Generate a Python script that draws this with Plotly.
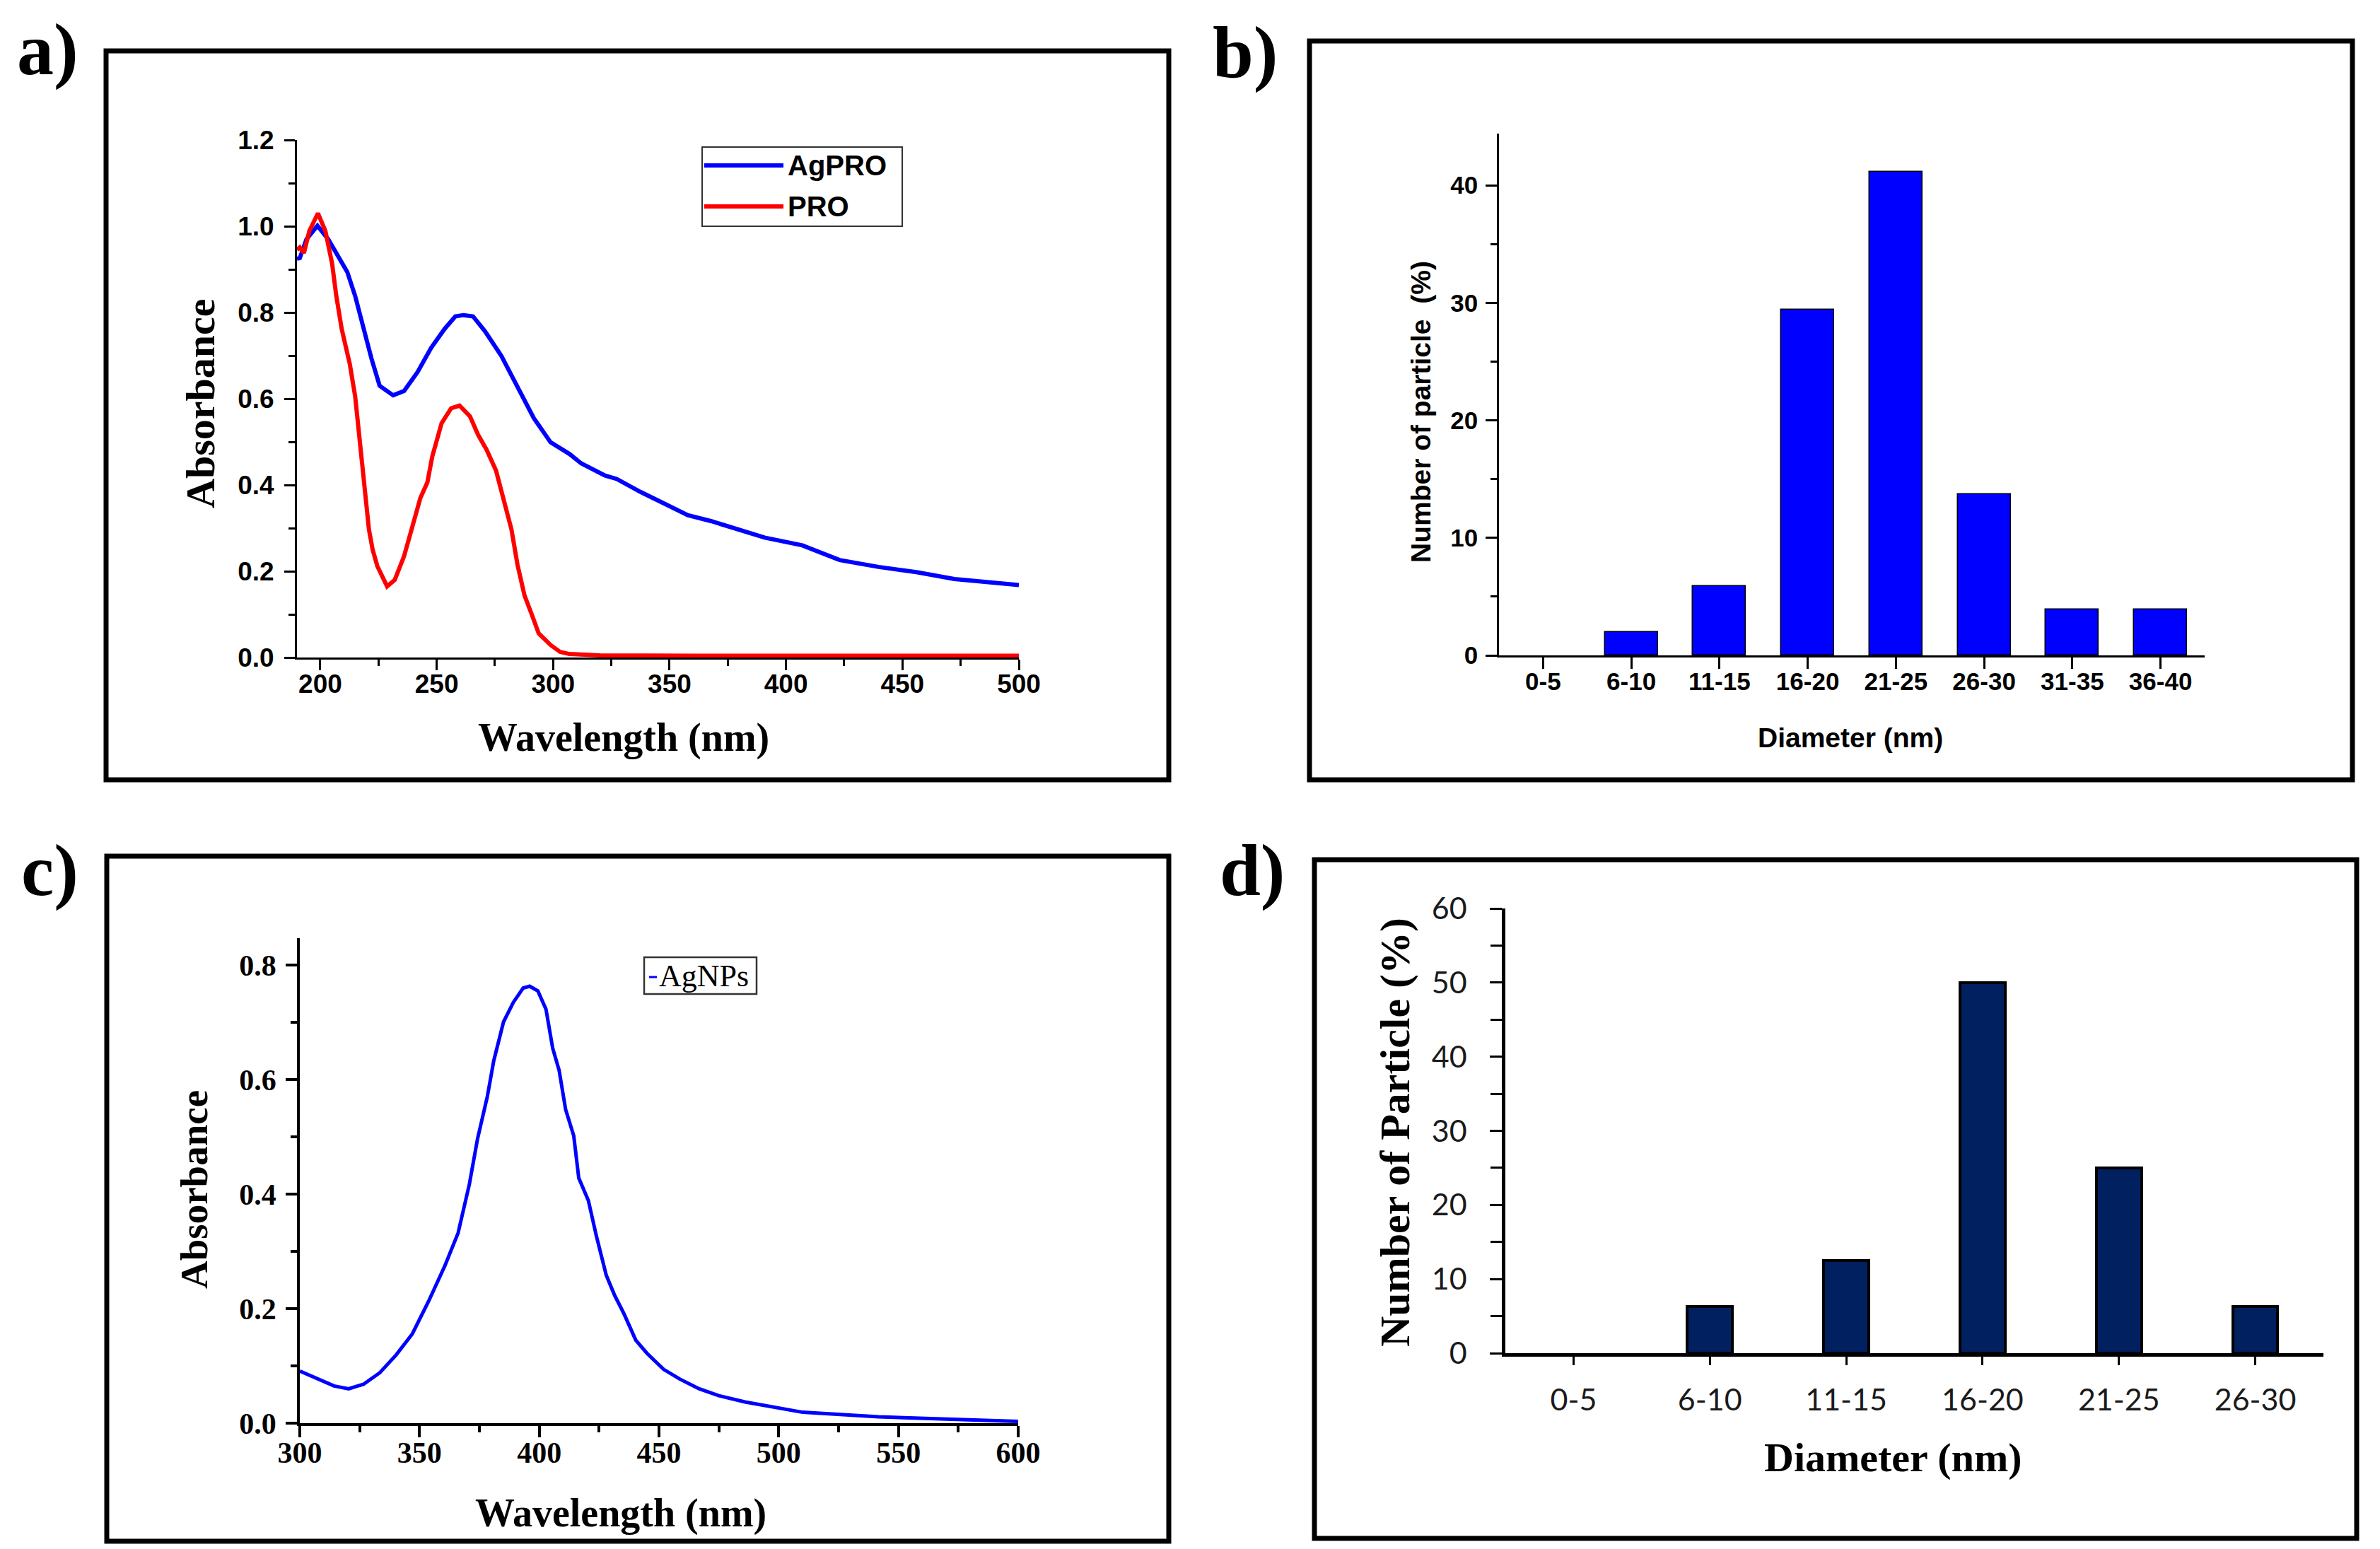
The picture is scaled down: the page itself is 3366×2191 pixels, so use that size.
import plotly.graph_objects as go

W, H = 3366, 2191

# ---- data ----
# a) UV-vis of AgPRO and PRO
a_wl_agpro  = [190, 191.2, 194.1, 198.8, 203.4, 206.9, 211.6, 215, 218.5, 222, 225.5, 231.3, 236, 241.8,
               247.6, 253.4, 258, 261.5, 265.6, 270.8, 277.8, 284.7, 291.7, 298.9, 307, 312.1, 322.3, 327.3,
               337.5, 347.7, 357.8, 368, 374.5, 390.8, 407, 423, 439.7, 456, 472.3, 488.6, 500]
a_abs_agpro = [0.925, 0.926, 0.970, 1.001, 0.970, 0.938, 0.894, 0.838, 0.762, 0.693, 0.630, 0.608, 0.618, 0.662,
               0.718, 0.762, 0.791, 0.794, 0.791, 0.756, 0.699, 0.630, 0.555, 0.499, 0.472, 0.450, 0.422, 0.414,
               0.384, 0.357, 0.330, 0.316, 0.305, 0.278, 0.260, 0.226, 0.210, 0.198, 0.182, 0.174, 0.168]
a_wl_pro    = [190, 191.2, 193, 195.3, 199, 202.2, 205.1, 206.9, 209.2, 212.7, 215, 216.8, 219.1, 220.9, 222.5,
               224.5, 228.7, 232, 236, 240, 243, 246, 248.1, 252.1, 256.2, 259.8, 264.3, 267.9, 271.4, 275.5,
               278.6, 282.1, 284.7, 287.7, 290.8, 293.8, 298.9, 303, 307, 320, 360, 400, 440, 480, 500]
a_abs_pro   = [0.945, 0.951, 0.938, 0.989, 1.030, 0.989, 0.913, 0.838, 0.762, 0.680, 0.605, 0.511, 0.385, 0.297,
               0.250, 0.212, 0.165, 0.180, 0.235, 0.310, 0.370, 0.406, 0.466, 0.543, 0.578, 0.584, 0.559, 0.515,
               0.482, 0.433, 0.368, 0.297, 0.215, 0.144, 0.100, 0.056, 0.029, 0.013, 0.008, 0.005, 0.004, 0.004,
               0.004, 0.004, 0.004]

# b) size distribution (AgPRO)
b_cats = ["0-5", "6-10", "11-15", "16-20", "21-25", "26-30", "31-35", "36-40"]
b_vals = [0, 1.96, 5.88, 29.41, 41.18, 13.73, 3.92, 3.92]

# c) UV-vis of AgNPs
c_wl  = [300, 303.4, 308.9, 314.3, 320.4, 326.6, 333.4, 340.2, 347, 353.8, 360.6, 366.1, 370.8, 374.2, 378.3,
         381, 385.1, 389.2, 393.3, 396, 399.4, 402.8, 405.6, 408.3, 411, 414.4, 416.5, 420.5, 423.9, 428, 431.4,
         435.5, 440.3, 445, 451.9, 458.7, 466.8, 475, 485.9, 499.5, 510, 541.6, 573, 600]
c_abs = [0.091, 0.085, 0.074, 0.065, 0.060, 0.068, 0.088, 0.119, 0.156, 0.213, 0.275, 0.332, 0.417, 0.496, 0.570,
         0.633, 0.701, 0.735, 0.760, 0.763, 0.755, 0.723, 0.655, 0.616, 0.548, 0.502, 0.428, 0.389, 0.326, 0.258,
         0.224, 0.190, 0.145, 0.122, 0.094, 0.077, 0.060, 0.048, 0.037, 0.026, 0.019, 0.011, 0.006, 0.003]

# d) size distribution (AgNPs)
d_cats = ["0-5", "6-10", "11-15", "16-20", "21-25", "26-30"]
d_vals = [0, 6.25, 12.5, 50, 25, 6.25]

SANS  = "Liberation Sans, Arial, sans-serif"
SERIF = "Liberation Serif, Times New Roman, serif"
CALI  = "Lato, Carlito, Calibri, sans-serif"


def px_x(x): return x / W
def px_y(y): return 1 - y / H


def axis(dom, rng, lw, tick_font, dtick=None, minor=None, ticklen=15, tickw=3, fmt=None, cat=False,
         minorlen=None, standoff=0):
    ax = dict(domain=dom, range=rng, showline=True, linecolor="black", linewidth=lw, mirror=False,
              showgrid=False, zeroline=False, ticks="outside", ticklen=ticklen, tickwidth=tickw,
              tickcolor="black", tickfont=tick_font, automargin=False, fixedrange=True,
              ticklabelstandoff=standoff)
    if cat:
        ax["type"] = "category"
    if dtick is not None:
        ax["dtick"] = dtick
        ax["tick0"] = 0
    if minor is not None:
        ax["minor"] = dict(dtick=minor, ticks="outside", ticklen=minorlen or max(8, int(ticklen * 0.6)),
                           tickwidth=tickw, tickcolor="black", showgrid=False)
    if fmt:
        ax["tickformat"] = fmt
    return ax


fig = go.Figure()

fig.add_trace(go.Scatter(x=a_wl_agpro, y=a_abs_agpro, mode="lines", name="AgPRO",
                         line=dict(color="#0000ff", width=6), xaxis="x", yaxis="y", showlegend=False))
fig.add_trace(go.Scatter(x=a_wl_pro, y=a_abs_pro, mode="lines", name="PRO",
                         line=dict(color="#ff0000", width=6), xaxis="x", yaxis="y", showlegend=False))
# no outline on empty bins
b_edge = [1.5 if v > 0 else 0 for v in b_vals]
d_edge = [4 if v > 0 else 0 for v in d_vals]
fig.add_trace(go.Bar(x=b_cats, y=b_vals, width=0.6,
                     marker=dict(color="#0000ff", line=dict(color="black", width=b_edge)),
                     xaxis="x2", yaxis="y2", showlegend=False))
fig.add_trace(go.Scatter(x=c_wl, y=c_abs, mode="lines", name="AgNPs",
                         line=dict(color="#0000ff", width=5), xaxis="x3", yaxis="y3", showlegend=False))
fig.add_trace(go.Bar(x=d_cats, y=d_vals, width=0.33,
                     marker=dict(color="#002060", line=dict(color="black", width=d_edge)),
                     xaxis="x4", yaxis="y4", showlegend=False))

f_a = dict(family=SANS, size=37, color="black", weight="bold")
f_b = dict(family=SANS, size=35, color="black", weight="bold")
f_c = dict(family=SERIF, size=42, color="black", weight="bold")
f_d = dict(family=CALI, size=43, color="#1a1a1a")

fig.update_layout(
    width=W, height=H, margin=dict(l=0, r=0, t=0, b=0, pad=0), autosize=False,
    paper_bgcolor="white", plot_bgcolor="white", bargap=0, showlegend=False,
    xaxis=dict(axis([px_x(412), px_x(1433)], [190, 500], 3, f_a, 50, 25, 15, 3, standoff=-12), anchor="y"),
    yaxis=dict(axis([px_y(922), px_y(190)], [0, 1.2], 3, f_a, 0.2, 0.1, 15, 3, ".1f", standoff=7), anchor="x"),
    xaxis2=dict(axis([px_x(2112), px_x(3110)], [-0.5, 7.5], 2.5, f_b, ticklen=16, tickw=2.5, cat=True,
                     standoff=-12), anchor="y2"),
    yaxis2=dict(axis([px_y(919), px_y(181)], [0, 44.4], 2.5, f_b, 10, 5, 16, 2.5, standoff=4), anchor="x2"),
    xaxis3=dict(axis([px_x(416), px_x(1432)], [300, 600], 3.5, f_c, 50, 25, 16, 3.5, standoff=-14), anchor="y3"),
    yaxis3=dict(axis([px_y(2005), px_y(1319)], [0, 0.847], 3.5, f_c, 0.2, 0.1, 16, 3.5, ".1f", standoff=5),
                anchor="x3"),
    xaxis4=dict(axis([px_x(2121), px_x(3278)], [-0.5, 5.5], 4.5, f_d, ticklen=12, tickw=3, cat=True,
                     standoff=13), anchor="y4"),
    yaxis4=dict(axis([px_y(1906), px_y(1277)], [0, 60], 4.5, f_d, 10, 5, 17, 3, minorlen=16, standoff=24),
                anchor="x4"),
)

# panel frames
frames = [(142, 64, 1645, 1095), (1844, 50, 3319, 1095), (143, 1203, 1645, 2172), (1851, 1208, 3325, 2168)]
for x0, y0, x1, y1 in frames:
    fig.add_shape(type="rect", xref="paper", yref="paper", x0=px_x(x0), x1=px_x(x1), y0=px_y(y1), y1=px_y(y0),
                  line=dict(color="black", width=7), fillcolor="rgba(0,0,0,0)")

# hand-drawn legend in a)
fig.add_shape(type="rect", xref="paper", yref="paper", x0=px_x(985), x1=px_x(1268), y0=px_y(312), y1=px_y(200),
              line=dict(color="#333333", width=2))
for yy, col, txt in [(226, "#0000ff", "AgPRO"), (284, "#ff0000", "PRO")]:
    fig.add_shape(type="line", xref="paper", yref="paper", x0=px_x(988), x1=px_x(1100), y0=px_y(yy), y1=px_y(yy),
                  line=dict(color=col, width=6))
    fig.add_annotation(x=px_x(1104), y=px_y(yy), xref="paper", yref="paper", text=txt, showarrow=False,
                       xanchor="left", yanchor="middle", font=dict(family=SANS, size=40, color="black", weight="bold"))

# legend in c)
fig.add_shape(type="rect", xref="paper", yref="paper", x0=px_x(903), x1=px_x(1062), y0=px_y(1398), y1=px_y(1346),
              line=dict(color="#333333", width=2.5))
fig.add_shape(type="line", xref="paper", yref="paper", x0=px_x(910), x1=px_x(921), y0=px_y(1374), y1=px_y(1374),
              line=dict(color="#0000ff", width=3))
fig.add_annotation(x=px_x(922), y=px_y(1372), xref="paper", yref="paper", text="AgNPs", showarrow=False,
                   xanchor="left", yanchor="middle", font=dict(family=SERIF, size=44, color="black"))

# axis titles
titles = [
    ("Wavelength (nm)", 874, 1035, 0, SERIF, 56, "bold"),
    ("Absorbance", 275, 563, -90, SERIF, 58, "bold"),
    ("Diameter (nm)", 2609, 1035, 0, SANS, 39, "bold"),
    ("Number of particle  (%)", 2001, 575, -90, SANS, 39, "bold"),
    ("Wavelength (nm)", 870, 2132, 0, SERIF, 56, "bold"),
    ("Absorbance", 266, 1675, -90, SERIF, 55, "bold"),
    ("Diameter (nm)", 2669, 2053, 0, SERIF, 58, "bold"),
    ("Number of Particle (%)", 1965, 1593, -90, SERIF, 60, "bold"),
]
for txt, x, y, ang, fam, size, wt in titles:
    fig.add_annotation(x=px_x(x), y=px_y(y), xref="paper", yref="paper", text=txt, showarrow=False, textangle=ang,
                       xanchor="center", yanchor="middle", font=dict(family=fam, size=size, color="black", weight=wt))

# panel letters
for txt, x, y in [("a)", 59, 62), ("b)", 1753, 66), ("c)", 62, 1223), ("d)", 1763, 1223)]:
    fig.add_annotation(x=px_x(x), y=px_y(y), xref="paper", yref="paper", text=txt, showarrow=False,
                       xanchor="center", yanchor="middle", font=dict(family=SERIF, size=104, color="black", weight="bold"))

fig.write_html("out.html")
